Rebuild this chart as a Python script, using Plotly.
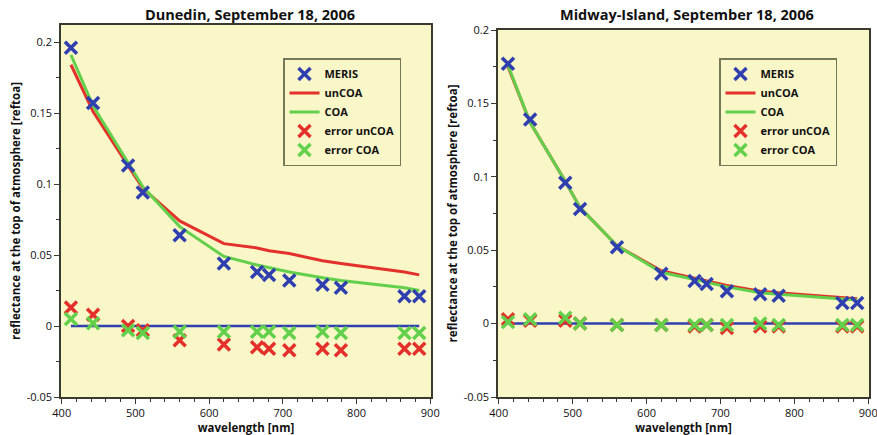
import plotly.graph_objects as go

# MERIS band centres [nm]
wavelength = [412.5, 442.5, 490, 510, 560, 620, 665, 681.25, 708.75, 753.75, 778.75, 865, 885]

# Dunedin
dun_meris = [0.196, 0.157, 0.113, 0.094, 0.064, 0.044, 0.038, 0.036, 0.032, 0.029, 0.027, 0.021, 0.021]
dun_uncoa = [0.184, 0.151, 0.113, 0.097, 0.074, 0.058, 0.055, 0.053, 0.051, 0.046, 0.044, 0.038, 0.036]
dun_coa = [0.191, 0.155, 0.115, 0.098, 0.070, 0.049, 0.043, 0.041, 0.038, 0.034, 0.032, 0.027, 0.025]
dun_err_uncoa = [0.013, 0.008, 0.000, -0.003, -0.010, -0.013, -0.015, -0.016, -0.017, -0.016, -0.017, -0.016, -0.016]
dun_err_coa = [0.005, 0.002, -0.003, -0.005, -0.004, -0.004, -0.004, -0.004, -0.005, -0.004, -0.005, -0.005, -0.005]

# Midway-Island
mid_meris = [0.177, 0.139, 0.096, 0.078, 0.052, 0.034, 0.029, 0.027, 0.022, 0.020, 0.019, 0.014, 0.014]
mid_uncoa = [0.175, 0.137, 0.097, 0.079, 0.053, 0.036, 0.031, 0.029, 0.026, 0.022, 0.021, 0.018, 0.017]
mid_coa = [0.176, 0.137, 0.097, 0.079, 0.053, 0.035, 0.030, 0.028, 0.025, 0.021, 0.020, 0.017, 0.016]
mid_err_uncoa = [0.003, 0.002, 0.002, 0.000, -0.001, -0.001, -0.002, -0.001, -0.003, -0.002, -0.002, -0.002, -0.002]
mid_err_coa = [0.001, 0.003, 0.004, 0.000, -0.001, -0.001, -0.001, -0.001, -0.001, 0.000, -0.001, -0.001, -0.001]

zero_line = [0.0] * len(wavelength)

titles = ["Dunedin, September 18, 2006", "Midway-Island, September 18, 2006"]
y_tickvals = [-0.05, 0, 0.05, 0.1, 0.15, 0.2]
y_ticktext = ["-0.05", "0", "0.05", "0.1", "0.15", "0.2"]
x_tickvals = [400, 500, 600, 700, 800, 900]

BLUE = "#2f3fb0"
RED = "#e4302a"
GREEN = "#62d04a"
BG = "#f9f6c8"
FRAME = "#3a3a30"
FONT = "Open Sans"

fig = go.Figure()

panels = [
    dict(meris=dun_meris, uncoa=dun_uncoa, coa=dun_coa, eu=dun_err_uncoa, ec=dun_err_coa,
         xa="x", ya="y", legend="legend"),
    dict(meris=mid_meris, uncoa=mid_uncoa, coa=mid_coa, eu=mid_err_uncoa, ec=mid_err_coa,
         xa="x2", ya="y2", legend="legend2"),
]


def xmark(c):
    return dict(symbol="x-thin", size=12, line=dict(color=c, width=3.5), color=c)


for p in panels:
    common = dict(xaxis=p["xa"], yaxis=p["ya"], legend=p["legend"])
    fig.add_trace(go.Scatter(x=wavelength, y=zero_line, mode="lines",
                             line=dict(color=BLUE, width=2.5), showlegend=False, **common))
    fig.add_trace(go.Scatter(x=wavelength, y=p["uncoa"], mode="lines", name="unCOA",
                             line=dict(color=RED, width=3), legendrank=2, **common))
    fig.add_trace(go.Scatter(x=wavelength, y=p["coa"], mode="lines", name="COA",
                             line=dict(color=GREEN, width=3), legendrank=3, **common))
    fig.add_trace(go.Scatter(x=wavelength, y=p["meris"], mode="markers", name="MERIS",
                             marker=xmark(BLUE), legendrank=1, **common))
    fig.add_trace(go.Scatter(x=wavelength, y=p["eu"], mode="markers", name="error unCOA",
                             marker=xmark(RED), legendrank=4, **common))
    fig.add_trace(go.Scatter(x=wavelength, y=p["ec"], mode="markers", name="error COA",
                             marker=xmark(GREEN), legendrank=5, **common))

W, H = 877, 435

axis_common = dict(
    showgrid=False, zeroline=False, showline=True, mirror=True, automargin=False,
    linecolor=FRAME, linewidth=1.5,
    ticks="outside", ticklen=5, tickwidth=1, tickcolor=FRAME,
    ticklabeloverflow="allow",
    tickfont=dict(family=FONT, size=11, color="#111"),
)
xaxis_common = dict(axis_common, tickvals=x_tickvals,
                    minor=dict(dtick=20, ticks="outside", ticklen=3, tickcolor=FRAME),
                    title=dict(text="<b>wavelength [nm]</b>", standoff=2,
                               font=dict(family=FONT, size=11.5, color="#111")))
yaxis_common = dict(axis_common, tickvals=y_tickvals, ticktext=y_ticktext,
                    minor=dict(dtick=0.025, tick0=0, ticks="outside", ticklen=3, tickcolor=FRAME),
                    title=dict(text="<b>reflectance at the top of atmosphere [reftoa]</b>", standoff=4,
                               font=dict(family=FONT, size=11.5, color="#111")))

legend_common = dict(
    bgcolor=BG, bordercolor="#77775a", borderwidth=1.5,
    font=dict(family=FONT, size=11, color="#111", weight="bold"),
    xanchor="left", yanchor="top", tracegroupgap=0, itemwidth=30,
)

fig.update_layout(
    width=W, height=H,
    margin=dict(l=0, r=0, t=0, b=0, autoexpand=False),
    paper_bgcolor="white", plot_bgcolor=BG,
    font=dict(family=FONT),
    xaxis=dict(xaxis_common, domain=[61 / W, 431 / W], range=[399, 901], anchor="y"),
    yaxis=dict(yaxis_common, domain=[1 - 397 / H, 1 - 25 / H], range=[-0.05, 0.212], anchor="x"),
    xaxis2=dict(xaxis_common, domain=[498 / W, 869 / W], range=[399, 901], anchor="y2"),
    yaxis2=dict(yaxis_common, domain=[1 - 397 / H, 1 - 30 / H], range=[-0.05, 0.2], anchor="x2"),
    legend=dict(legend_common, x=283 / W, y=1 - 58 / H),
    legend2=dict(legend_common, x=719 / W, y=1 - 58 / H),
    annotations=[
        dict(text="<b>" + titles[0] + "</b>", x=250 / W, y=1 - 15 / H, xref="paper", yref="paper",
             xanchor="center", yanchor="middle", showarrow=False,
             font=dict(family=FONT, size=14.5, color="#111")),
        dict(text="<b>" + titles[1] + "</b>", x=687 / W, y=1 - 15 / H, xref="paper", yref="paper",
             xanchor="center", yanchor="middle", showarrow=False,
             font=dict(family=FONT, size=14.5, color="#111")),
    ],
)

fig.write_html("out.html")
